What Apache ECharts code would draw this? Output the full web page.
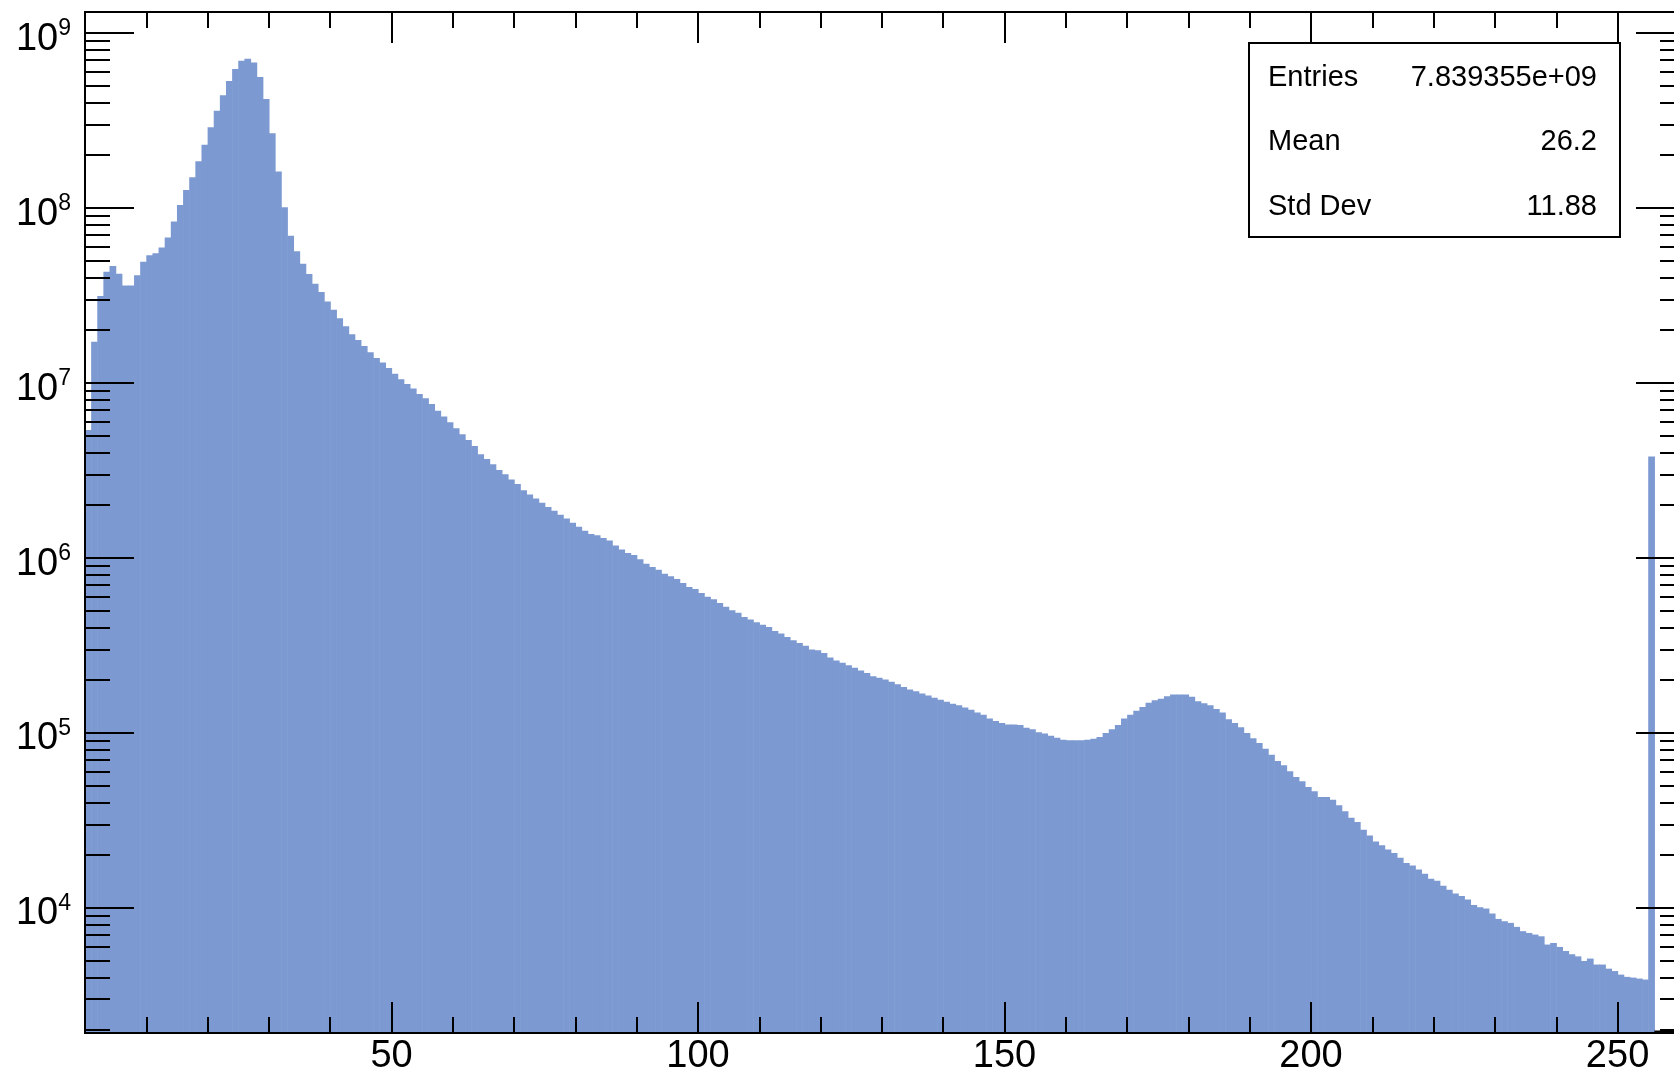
<!DOCTYPE html>
<html>
<head>
<meta charset="utf-8">
<script src="https://cdn.jsdelivr.net/npm/echarts@6/dist/echarts.min.js"></script>
<style>html,body{margin:0;padding:0;background:#fff}#chart{width:1674px;height:1079px}</style>
</head>
<body>
<div id="chart"></div>
<script>
// ---- data (histogram of 0..255 values, bin width 1) ----
const binStart = 0;
const binWidth = 1;
const counts = [
  5.40e6, 1.72e7, 3.14e7, 4.33e7, 4.67e7, 4.22e7, 3.61e7, 3.61e7, 4.13e7, 4.94e7,
  5.37e7, 5.52e7, 5.95e7, 6.79e7, 8.39e7, 1.04e8, 1.27e8, 1.50e8, 1.85e8, 2.30e8,
  2.90e8, 3.60e8, 4.41e8, 5.33e8, 6.24e8, 6.94e8, 7.13e8, 6.79e8, 5.62e8, 4.20e8,
  2.68e8, 1.62e8, 1.01e8, 6.94e7, 5.66e7, 4.80e7, 4.20e7, 3.70e7, 3.31e7, 2.92e7,
  2.62e7, 2.35e7, 2.11e7, 1.90e7, 1.76e7, 1.63e7, 1.50e7, 1.39e7, 1.31e7, 1.22e7,
  1.13e7, 1.05e7, 9.87e6, 9.31e6, 8.65e6, 8.20e6, 7.58e6, 6.94e6, 6.44e6, 5.97e6,
  5.52e6, 5.10e6, 4.73e6, 4.37e6, 3.92e6, 3.68e6, 3.43e6, 3.18e6, 3.01e6, 2.81e6,
  2.65e6, 2.44e6, 2.31e6, 2.19e6, 2.07e6, 1.96e6, 1.86e6, 1.77e6, 1.68e6, 1.59e6,
  1.51e6, 1.43e6, 1.37e6, 1.35e6, 1.30e6, 1.26e6, 1.18e6, 1.12e6, 1.07e6, 1.04e6,
  9.83e5, 9.29e5, 8.89e5, 8.58e5, 8.14e5, 7.86e5, 7.59e5, 7.20e5, 6.83e5, 6.65e5,
  6.31e5, 6.00e5, 5.81e5, 5.54e5, 5.26e5, 5.03e5, 4.86e5, 4.61e5, 4.45e5, 4.30e5,
  4.16e5, 4.04e5, 3.83e5, 3.70e5, 3.54e5, 3.39e5, 3.27e5, 3.15e5, 3.00e5, 2.97e5,
  2.87e5, 2.70e5, 2.60e5, 2.52e5, 2.44e5, 2.36e5, 2.28e5, 2.20e5, 2.11e5, 2.07e5,
  2.02e5, 1.96e5, 1.90e5, 1.83e5, 1.77e5, 1.73e5, 1.68e5, 1.64e5, 1.59e5, 1.55e5,
  1.51e5, 1.47e5, 1.44e5, 1.40e5, 1.36e5, 1.31e5, 1.27e5, 1.21e5, 1.17e5, 1.14e5,
  1.12e5, 1.12e5, 1.11e5, 1.07e5, 1.05e5, 1.01e5, 9.92e4, 9.66e4, 9.40e4, 9.16e4,
  9.08e4, 9.08e4, 9.08e4, 9.16e4, 9.27e4, 9.48e4, 1.00e5, 1.05e5, 1.11e5, 1.21e5,
  1.27e5, 1.34e5, 1.41e5, 1.49e5, 1.54e5, 1.57e5, 1.62e5, 1.66e5, 1.66e5, 1.66e5,
  1.61e5, 1.52e5, 1.48e5, 1.44e5, 1.37e5, 1.31e5, 1.20e5, 1.14e5, 1.08e5, 1.00e5,
  9.33e4, 8.77e4, 8.14e4, 7.52e4, 6.92e4, 6.54e4, 6.04e4, 5.61e4, 5.30e4, 4.92e4,
  4.65e4, 4.31e4, 4.31e4, 4.16e4, 3.86e4, 3.57e4, 3.28e4, 3.10e4, 2.80e4, 2.60e4,
  2.40e4, 2.28e4, 2.16e4, 2.06e4, 1.94e4, 1.81e4, 1.75e4, 1.66e4, 1.57e4, 1.47e4,
  1.43e4, 1.34e4, 1.27e4, 1.21e4, 1.17e4, 1.12e4, 1.04e4, 1.01e4, 9.93e3, 9.30e3,
  8.66e3, 8.40e3, 8.22e3, 7.80e3, 7.37e3, 7.20e3, 7.05e3, 6.89e3, 6.18e3, 6.31e3,
  5.99e3, 5.68e3, 5.44e3, 5.29e3, 4.98e3, 5.14e3, 4.75e3, 4.75e3, 4.50e3, 4.36e3,
  4.16e3, 4.04e3, 4.00e3, 3.95e3, 3.90e3, 3.80e6,
  0, 0, 0, 0, 0
];
const xRange = [0, 261];
const yRange = [1930, 1.32e9];
const xMajorTicks = [0, 50, 100, 150, 200, 250];
const xLabelTicks = [50, 100, 150, 200, 250];
const xMinorTicks = [10, 20, 30, 40, 60, 70, 80, 90, 110, 120, 130, 140, 160, 170, 180, 190, 210, 220, 230, 240];
const yMajorTicks = [1e4, 1e5, 1e6, 1e7, 1e8, 1e9];
const yMinorTicks = [
  2e3, 3e3, 4e3, 5e3, 6e3, 7e3, 8e3, 9e3,
  2e4, 3e4, 4e4, 5e4, 6e4, 7e4, 8e4, 9e4,
  2e5, 3e5, 4e5, 5e5, 6e5, 7e5, 8e5, 9e5,
  2e6, 3e6, 4e6, 5e6, 6e6, 7e6, 8e6, 9e6,
  2e7, 3e7, 4e7, 5e7, 6e7, 7e7, 8e7, 9e7,
  2e8, 3e8, 4e8, 5e8, 6e8, 7e8, 8e8, 9e8
];
const statNames = ['Entries', 'Mean', 'Std Dev'];
const statValues = ['7.839355e+09', '26.2', '11.88'];

// ---- chart ----
const FONT = '"Liberation Sans", Arial, Helvetica, sans-serif';
const fillColor = '#7c9ad1';
const chart = echarts.init(document.getElementById('chart'), null, {renderer: 'canvas'});

function xAxisDef(pos, ticks, len, labels) {
  return {
    type: 'value', min: xRange[0], max: xRange[1], position: pos, z: 10,
    axisLine: {show: true, onZero: false, lineStyle: {color: '#000', width: 2}},
    axisTick: {show: true, inside: true, length: len, customValues: ticks, lineStyle: {color: '#000', width: 2}},
    axisLabel: labels ? {show: true, customValues: xLabelTicks, fontSize: 38, fontFamily: FONT, color: '#000', margin: 5} : {show: false},
    splitLine: {show: false}, minorTick: {show: false}
  };
}

const histData = counts.map((c, i) => [binStart + i * binWidth, binStart + (i + 1) * binWidth, c]);
const tickData = yMajorTicks.map(v => [v, 1]).concat(yMinorTicks.map(v => [v, 0]));

const option = {
  animation: false,
  backgroundColor: '#fff',
  grid: {left: 85, top: 12, right: -11, bottom: 46, show: true, borderColor: '#000', borderWidth: 2,
         containLabel: false, outerBoundsMode: 'none'},
  xAxis: [
    xAxisDef('bottom', xMajorTicks, 31, true),
    xAxisDef('bottom', xMinorTicks, 16, false),
    xAxisDef('top', xMajorTicks, 31, false),
    xAxisDef('top', xMinorTicks, 16, false)
  ],
  yAxis: [{
    type: 'log', logBase: 10, min: yRange[0], max: yRange[1], position: 'left', z: 10,
    axisLine: {show: true, lineStyle: {color: '#000', width: 2}},
    axisTick: {show: false}, minorTick: {show: false}, splitLine: {show: false},
    axisLabel: {
      show: true, margin: 14, showMinLabel: false, showMaxLabel: false,
      formatter: function (v) {
        const l = Math.log10(v); const e = Math.round(l);
        if (Math.abs(l - e) > 1e-6) return '';
        return '{b|10}{s|' + e + '}';
      },
      rich: {
        b: {fontSize: 38, fontFamily: FONT, color: '#000', lineHeight: 38, padding: [12, 0, 0, 0]},
        s: {fontSize: 23, fontFamily: FONT, color: '#000', lineHeight: 23, padding: [9, 0, 18, 0]}
      }
    }
  }],
  series: [
    {
      type: 'custom', name: 'hist', xAxisIndex: 0, yAxisIndex: 0, silent: true, z: 2,
      data: histData, encode: {x: [0, 1], y: 2},
      renderItem: function (params, api) {
        const cs = params.coordSys;
        const bottom = cs.y + cs.height;
        const v = api.value(2);
        if (!(v > 0)) {
          const a = api.coord([api.value(0), yRange[0]]);
          const b = api.coord([api.value(1), yRange[0]]);
          return {type: 'line', shape: {x1: a[0], y1: bottom - 1, x2: b[0] + 0.5, y2: bottom - 1},
                  style: {stroke: '#000', lineWidth: 3}, z2: 20};
        }
        const p0 = api.coord([api.value(0), v]);
        const p1 = api.coord([api.value(1), v]);
        return {type: 'rect', shape: {x: p0[0], y: p0[1], width: p1[0] - p0[0] + 0.6, height: bottom - p0[1]},
                style: {fill: fillColor}};
      }
    },
    {
      type: 'custom', name: 'yticks', xAxisIndex: 0, yAxisIndex: 0, silent: true, z: 5,
      data: tickData, encode: {x: 1, y: 0},
      renderItem: function (params, api) {
        const cs = params.coordSys;
        const v = api.value(0);
        const major = api.value(1) === 1;
        const y = Math.round(api.coord([xRange[0], v])[1]);
        const L = major ? 49 : 25;
        const xr = cs.x + cs.width;
        return {type: 'group', children: [
          {type: 'line', shape: {x1: cs.x, y1: y, x2: cs.x + L, y2: y}, style: {stroke: '#000', lineWidth: 2}},
          {type: 'line', shape: {x1: xr, y1: y, x2: xr - L, y2: y}, style: {stroke: '#000', lineWidth: 2}}
        ]};
      }
    }
  ],
  graphic: [
    {type: 'rect', z: 100, shape: {x: 1249, y: 43, width: 371, height: 194},
     style: {fill: '#fff', stroke: '#000', lineWidth: 2}},
    {type: 'text', z: 101, x: 1268, y: 78, style: {text: statNames[0], fontSize: 29, fontFamily: FONT, fill: '#000', verticalAlign: 'middle', align: 'left'}},
    {type: 'text', z: 101, x: 1268, y: 142, style: {text: statNames[1], fontSize: 29, fontFamily: FONT, fill: '#000', verticalAlign: 'middle', align: 'left'}},
    {type: 'text', z: 101, x: 1268, y: 207, style: {text: statNames[2], fontSize: 29, fontFamily: FONT, fill: '#000', verticalAlign: 'middle', align: 'left'}},
    {type: 'text', z: 101, x: 1597, y: 78, style: {text: statValues[0], fontSize: 29, fontFamily: FONT, fill: '#000', verticalAlign: 'middle', align: 'right'}},
    {type: 'text', z: 101, x: 1597, y: 142, style: {text: statValues[1], fontSize: 29, fontFamily: FONT, fill: '#000', verticalAlign: 'middle', align: 'right'}},
    {type: 'text', z: 101, x: 1597, y: 207, style: {text: statValues[2], fontSize: 29, fontFamily: FONT, fill: '#000', verticalAlign: 'middle', align: 'right'}}
  ]
};
chart.setOption(option);
</script>
</body>
</html>
